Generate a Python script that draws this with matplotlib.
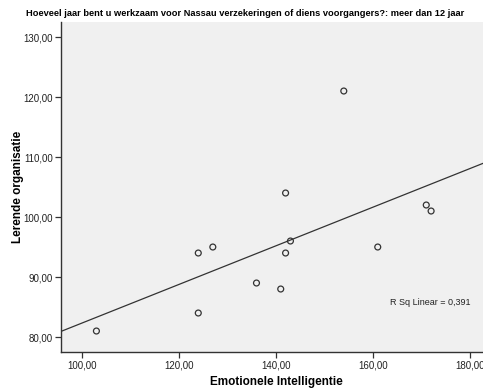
import matplotlib
matplotlib.use('Agg')
import matplotlib.pyplot as plt
import numpy as np

plt.rcParams['font.family'] = ['Liberation Sans', 'DejaVu Sans']

# Emotionele Intelligentie vs Lerende organisatie (meer dan 12 jaar)
ei = [103, 124, 124, 127, 136, 141, 142, 142, 143, 154, 161, 171, 172]
lo = [81, 94, 84, 95, 89, 88, 94, 104, 96, 121, 95, 102, 101]

x_ticks = [100, 120, 140, 160, 180]
y_ticks = [80, 90, 100, 110, 120, 130]

x = np.array(ei, dtype=float)
y = np.array(lo, dtype=float)
slope, intercept = np.polyfit(x, y, 1)
r2 = np.corrcoef(x, y)[0, 1] ** 2

fig = plt.figure(figsize=(4.83, 3.91), dpi=100)
ax = fig.add_axes([0.1263, 0.0997, 0.8737, 0.844])
ax.set_facecolor('#f0f0f0')

xlim = (95.7, 182.7)
ax.set_xlim(xlim)
ax.set_ylim(77.5, 132.5)

# fit line over the full x range
xs = np.array(xlim)
ax.plot(xs, intercept + slope * xs, color='#333333', lw=0.9)

ax.scatter(x, y, s=18, facecolors='none', edgecolors='#333333', linewidths=0.9, zorder=3)

ax.set_xticks(x_ticks)
ax.set_yticks(y_ticks)
ax.set_xticklabels([f'{v:.2f}'.replace('.', ',') for v in x_ticks])
ax.set_yticklabels([f'{v:.2f}'.replace('.', ',') for v in y_ticks])
ax.tick_params(labelsize=7, length=4.5, width=0.9, pad=1.5, color='#333333', labelcolor='#222222')

for s in ['top', 'right']:
    ax.spines[s].set_visible(False)
for s in ['left', 'bottom']:
    ax.spines[s].set_color('#333333')
    ax.spines[s].set_linewidth(1.0)

ax.text(0.97, 0.15, 'R Sq Linear = ' + f'{r2:.3f}'.replace('.', ','),
        transform=ax.transAxes, ha='right', va='center', fontsize=6.5, color='#222222')

# axis titles placed in figure coordinates
fig.text(276 / 483, 1 - 382 / 391, 'Emotionele Intelligentie',
         ha='center', va='center', fontsize=8.5, fontweight='bold')
fig.text(18 / 483, 1 - 187 / 391, 'Lerende organisatie', rotation=90,
         ha='center', va='center', fontsize=8.5, fontweight='bold')

fig.text(245 / 483, 1 - 13 / 391, 'Hoeveel jaar bent u werkzaam voor Nassau verzekeringen of diens voorgangers?: meer dan 12 jaar',
         ha='center', va='center', fontsize=6.7, fontweight='bold')

plt.savefig('out.png', dpi=100)
